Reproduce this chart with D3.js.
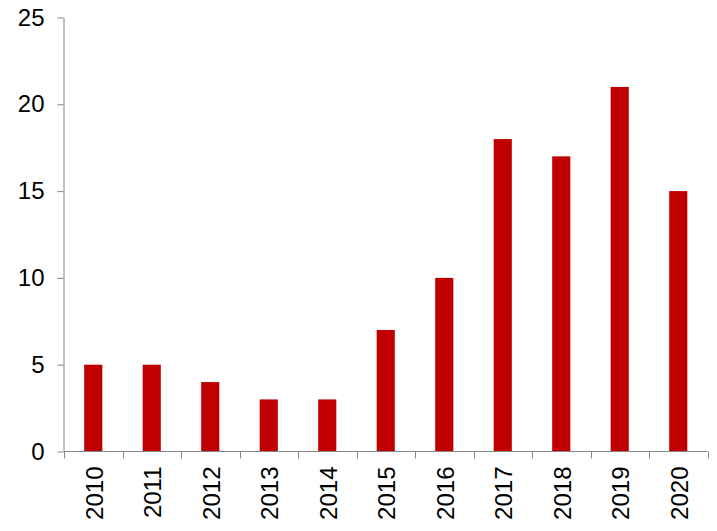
<!DOCTYPE html>
<html><head><meta charset="utf-8">
<script src="https://cdn.jsdelivr.net/npm/d3@7"></script>
<style>body{margin:0;background:#fff}svg{display:block}text{font-family:"Liberation Sans",Arial,sans-serif}</style>
</head><body>
<script>
const years = ["2010","2011","2012","2013","2014","2015","2016","2017","2018","2019","2020"];
const values = [5,5,4,3,3,7,10,18,17,21,15];
const yTicks = [0,5,10,15,20,25];

const W = 717, H = 531;
const svg = d3.select("body").append("svg").attr("width", W).attr("height", H);
const x = d3.scaleBand().domain(years).range([64, 707.5]).paddingInner(0.69).paddingOuter(0.345);
const xb = d3.scaleBand().domain(years).range([64, 707.5]);
const y = d3.scaleLinear().domain([0,25]).range([451.5, 17.5]);

svg.selectAll("rect.bar").data(values).enter().append("rect")
  .attr("x", (d,i) => x(years[i])).attr("width", x.bandwidth())
  .attr("y", d => y(d)).attr("height", d => y(0) - y(d))
  .attr("fill", "#C00000");

// y axis
const ya = svg.append("g").attr("transform","translate(63.5,0)")
  .call(d3.axisLeft(y).tickValues(yTicks).tickSize(6).tickSizeOuter(0).tickPadding(13));
ya.select(".domain").attr("stroke","#868686");
ya.selectAll(".tick line").attr("stroke","#868686");
ya.selectAll("text").attr("font-size","24px").attr("fill","#000")
  .attr("font-family","'Liberation Sans', Arial, sans-serif");

// x axis
const xg = svg.append("g").attr("transform","translate(0,451.5)");
xg.append("line").attr("x1",64).attr("x2",707.5).attr("y1",0).attr("y2",0).attr("stroke","#868686");
const bounds = years.map(d => xb(d)).concat([xb(years[years.length-1]) + xb.bandwidth()]);
xg.selectAll("line.t").data(bounds).enter().append("line")
  .attr("x1", d => Math.round(d)+0.5).attr("x2", d => Math.round(d)+0.5)
  .attr("y1",0).attr("y2",7).attr("stroke","#868686");
xg.selectAll("text").data(years).enter().append("text")
  .attr("transform", d => `translate(${xb(d)+xb.bandwidth()/2+9.4},15) rotate(-90)`)
  .attr("text-anchor","end").attr("font-size","24px").attr("fill","#000")
  .text(d => d);
</script>
</body></html>
